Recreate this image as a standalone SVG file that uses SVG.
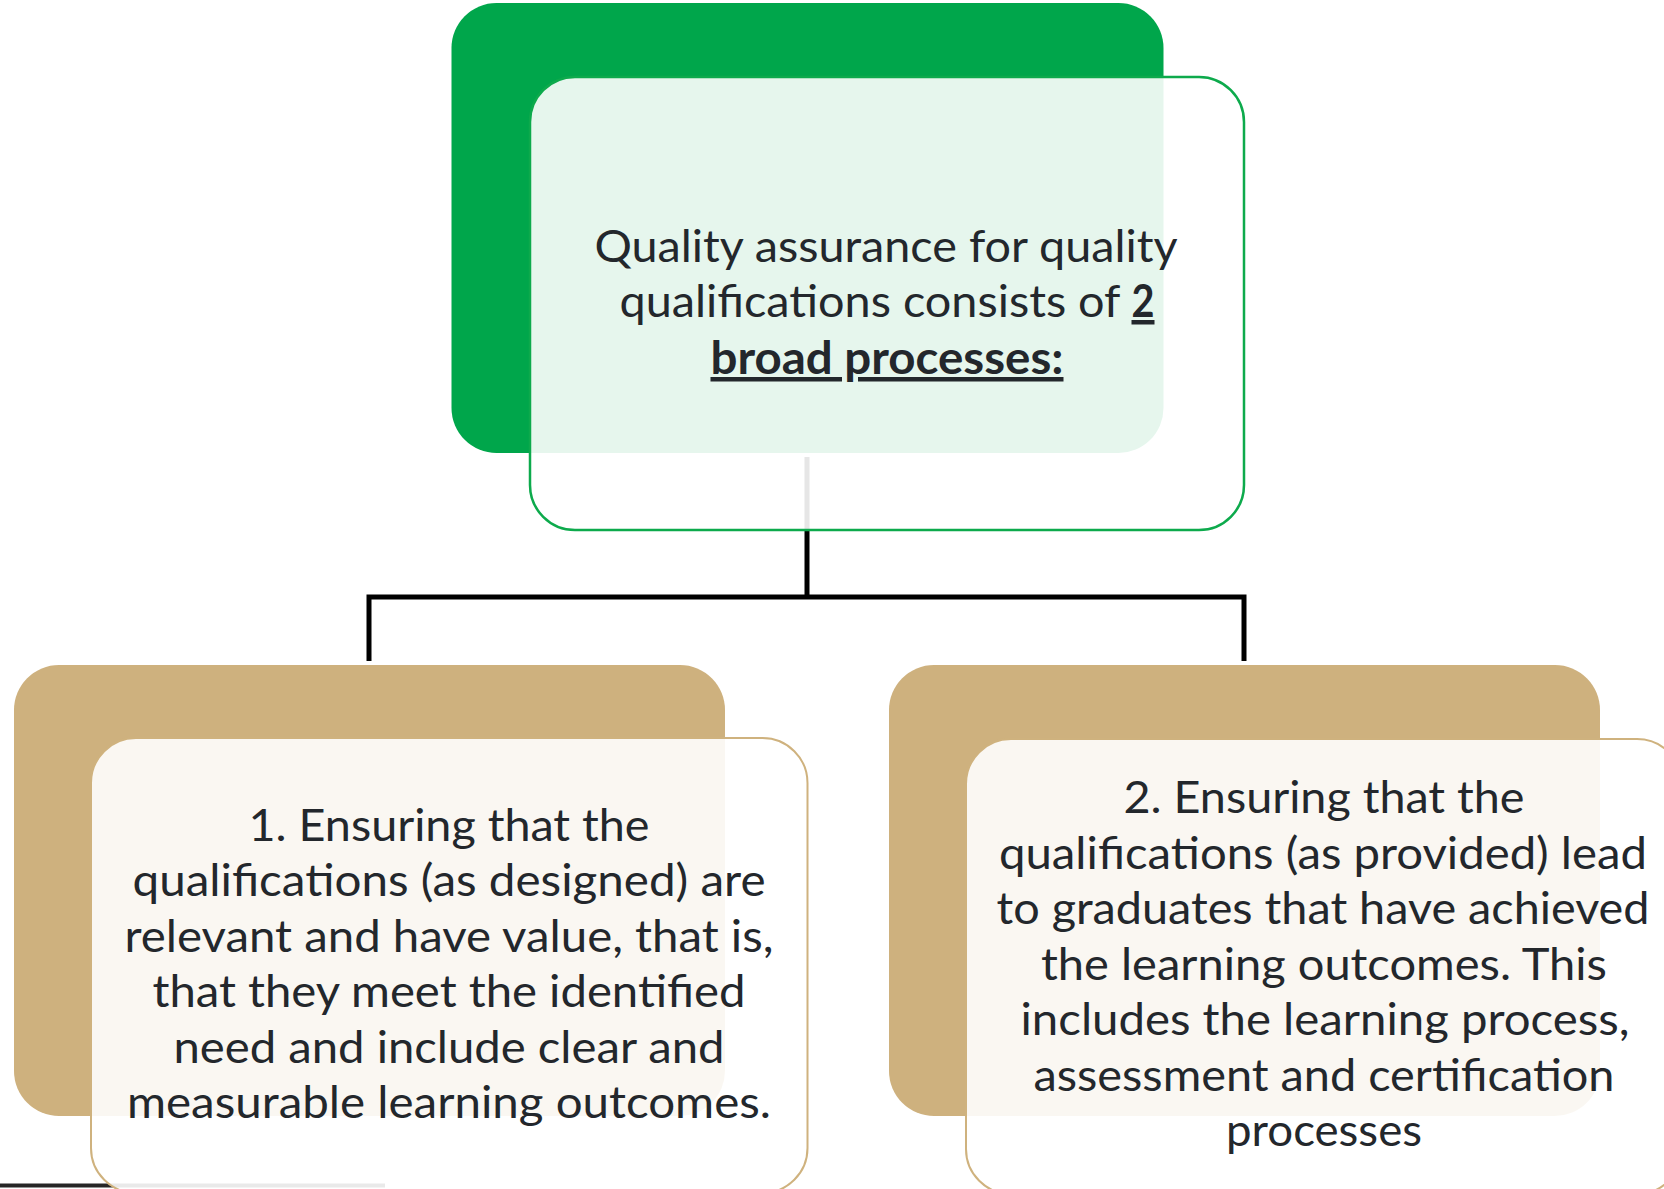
<svg xmlns="http://www.w3.org/2000/svg" width="1664" height="1189" viewBox="0 0 1664 1189">
  <style>
    .back-green { fill: #00A64B; }
    .front-green { fill: #FFFFFF; fill-opacity: 0.9; stroke: #0DAA4C; stroke-width: 2.5; }
    .back-tan { fill: #CEB17E; }
    .front-tan { fill: #FFFFFF; fill-opacity: 0.9; stroke: #CFB27E; stroke-width: 2; }
    .conn { fill: none; stroke: #000000; stroke-width: 5; }
    .conn-thin { fill: none; stroke: #262626; stroke-width: 4; }
    .label { font-family: Lato, "Liberation Sans", sans-serif; font-size: 45px; fill: #23272C; }
    .mid { text-anchor: middle; }
    .strong { font-weight: bold; text-decoration: underline; }
  </style>
  <rect width="1664" height="1189" fill="#FFFFFF"/>

  <!-- connectors sit beneath the translucent front cards -->
  <g id="connectors">
    <path class="conn" d="M807 457 V597 M369 661 V597 H1244 V661"/>
    <path class="conn-thin" d="M0 1185.5 H385"/>
  </g>

  <!-- root node -->
  <g id="node-root">
    <rect class="back-green" x="451.5" y="3" width="712" height="450" rx="45"/>
    <rect class="front-green" x="530" y="77" width="714" height="453" rx="45"/>
    <text class="label mid" x="886" y="262" textLength="583" lengthAdjust="spacingAndGlyphs">Quality assurance for quality</text>
    <text class="label" x="619.5" y="317" textLength="501" lengthAdjust="spacingAndGlyphs">qualifications consists of</text>
    <text class="label strong" x="1131.5" y="317" textLength="23" lengthAdjust="spacingAndGlyphs">2</text>
    <text class="label strong mid" x="887" y="374" textLength="353" lengthAdjust="spacingAndGlyphs">broad processes:</text>
  </g>

  <!-- first process -->
  <g id="node-process-1">
    <rect class="back-tan" x="14" y="665" width="711" height="451" rx="45"/>
    <rect class="front-tan" x="91" y="738" width="716.5" height="455" rx="45"/>
    <text class="label mid" x="449" y="841" textLength="401" lengthAdjust="spacingAndGlyphs">1. Ensuring that the</text>
    <text class="label mid" x="449" y="896" textLength="633" lengthAdjust="spacingAndGlyphs">qualifications (as designed) are</text>
    <text class="label mid" x="449" y="952" textLength="649" lengthAdjust="spacingAndGlyphs">relevant and have value, that is,</text>
    <text class="label mid" x="449" y="1007" textLength="593" lengthAdjust="spacingAndGlyphs">that they meet the identified</text>
    <text class="label mid" x="449" y="1063" textLength="551" lengthAdjust="spacingAndGlyphs">need and include clear and</text>
    <text class="label mid" x="449" y="1118" textLength="644" lengthAdjust="spacingAndGlyphs">measurable learning outcomes.</text>
  </g>

  <!-- second process -->
  <g id="node-process-2">
    <rect class="back-tan" x="889" y="665" width="711" height="451" rx="45"/>
    <rect class="front-tan" x="966" y="739" width="716" height="455" rx="45"/>
    <text class="label mid" x="1324" y="813" textLength="401" lengthAdjust="spacingAndGlyphs">2. Ensuring that the</text>
    <text class="label mid" x="1323" y="869" textLength="648" lengthAdjust="spacingAndGlyphs">qualifications (as provided) lead</text>
    <text class="label mid" x="1323" y="924" textLength="653" lengthAdjust="spacingAndGlyphs">to graduates that have achieved</text>
    <text class="label mid" x="1324" y="980" textLength="566" lengthAdjust="spacingAndGlyphs">the learning outcomes. This</text>
    <text class="label mid" x="1325" y="1035" textLength="609" lengthAdjust="spacingAndGlyphs">includes the learning process,</text>
    <text class="label mid" x="1324" y="1091" textLength="581" lengthAdjust="spacingAndGlyphs">assessment and certification</text>
    <text class="label mid" x="1324" y="1146" textLength="196" lengthAdjust="spacingAndGlyphs">processes</text>
  </g>
</svg>
